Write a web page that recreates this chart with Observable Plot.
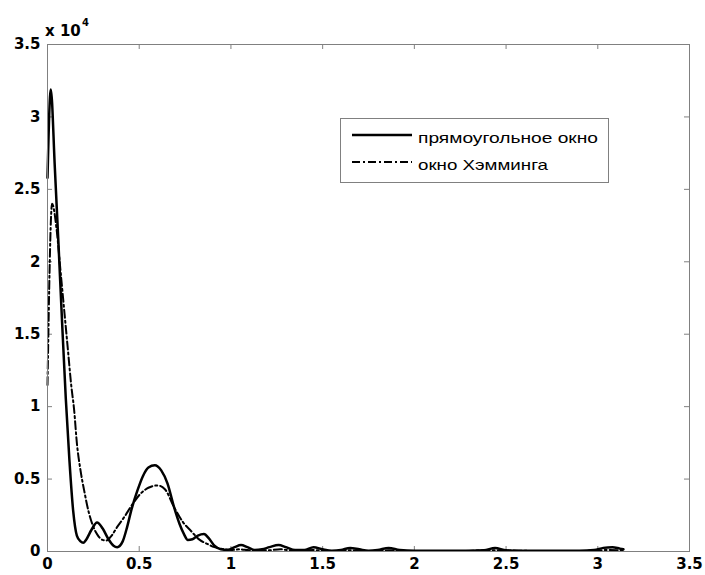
<!DOCTYPE html>
<html>
<head>
<meta charset="utf-8">
<script src="https://cdn.jsdelivr.net/npm/d3@7"></script>
<script src="https://cdn.jsdelivr.net/npm/@observablehq/plot@0.6"></script>
<style>
  html, body { margin: 0; padding: 0; background: #fff; }
  #chart { position: relative; width: 705px; height: 575px; overflow: hidden; }
  #chart svg.overlay { position: absolute; left: 0; top: 0; pointer-events: none; }
</style>
</head>
<body>
<div id="chart"></div>
<script>
// ---- data (values in units of 10^4) ----
const seriesNames = ["прямоугольное окно", "окно Хэмминга"];

const rectX = [0, 0.018, 0.04, 0.06, 0.08, 0.10, 0.12, 0.14, 0.16, 0.18, 0.195, 0.21, 0.24, 0.27, 0.30, 0.33, 0.36, 0.38, 0.41, 0.43, 0.46, 0.49, 0.52, 0.55, 0.585, 0.62, 0.654, 0.69, 0.72, 0.744, 0.765, 0.79, 0.82, 0.853, 0.88, 0.91, 0.945, 0.98, 1.02, 1.055, 1.09, 1.13, 1.17, 1.21, 1.26, 1.30, 1.35, 1.40, 1.45, 1.50, 1.55, 1.60, 1.65, 1.70, 1.75, 1.80, 1.86, 1.92, 2.0, 2.1, 2.2, 2.3, 2.38, 2.44, 2.50, 2.6, 2.7, 2.8, 2.9, 2.98, 3.03, 3.08, 3.12, 3.14];
const rectY = [2.58, 3.19, 2.65, 2.12, 1.57, 1.05, 0.62, 0.28, 0.11, 0.07, 0.06, 0.08, 0.15, 0.20, 0.16, 0.09, 0.04, 0.03, 0.07, 0.15, 0.30, 0.42, 0.52, 0.58, 0.595, 0.56, 0.47, 0.306, 0.19, 0.12, 0.08, 0.085, 0.11, 0.12, 0.09, 0.04, 0.015, 0.01, 0.03, 0.045, 0.03, 0.01, 0.015, 0.03, 0.045, 0.03, 0.01, 0.01, 0.03, 0.015, 0.005, 0.01, 0.025, 0.015, 0.005, 0.01, 0.025, 0.01, 0.005, 0.005, 0.005, 0.005, 0.008, 0.025, 0.008, 0.005, 0.005, 0.005, 0.005, 0.01, 0.025, 0.03, 0.02, 0.015];

const hammX = [0, 0.025, 0.05, 0.07, 0.09, 0.11, 0.13, 0.145, 0.16, 0.18, 0.20, 0.227, 0.25, 0.27, 0.30, 0.32, 0.35, 0.38, 0.418, 0.46, 0.508, 0.55, 0.60, 0.64, 0.69, 0.74, 0.78, 0.83, 0.87, 0.91, 0.945, 1.0, 1.05, 1.1, 1.2, 1.27, 1.35, 1.45, 1.55, 1.65, 1.75, 1.86, 2.0, 2.2, 2.44, 2.7, 2.9, 3.05, 3.14];
const hammY = [1.15, 2.40, 2.22, 1.95, 1.68, 1.41, 1.14, 0.98, 0.75, 0.56, 0.42, 0.26, 0.17, 0.12, 0.08, 0.076, 0.11, 0.17, 0.237, 0.32, 0.40, 0.44, 0.456, 0.43, 0.306, 0.20, 0.145, 0.08, 0.053, 0.03, 0.02, 0.01, 0.015, 0.008, 0.008, 0.015, 0.005, 0.01, 0.003, 0.008, 0.003, 0.008, 0.003, 0.003, 0.008, 0.003, 0.003, 0.01, 0.008];

const xTicks = [0, 0.5, 1, 1.5, 2, 2.5, 3, 3.5];
const yTicks = [0, 0.5, 1, 1.5, 2, 2.5, 3, 3.5];
const xTickLabels = ["0", "0.5", "1", "1.5", "2", "2.5", "3", "3.5"];
const yTickLabels = ["0", "0.5", "1", "1.5", "2", "2.5", "3", "3.5"];
const scaleExponent = "4";

// ---- build tables ----
const rect = rectX.map((x, i) => ({x, y: rectY[i]}));
const hamm = hammX.map((x, i) => ({x, y: hammY[i]}));

const W = 705, H = 575;
const mL = 47, mR = 16, mT = 44, mB = 24;
const innerH = H - mT - mB, innerW = W - mL - mR;
const tick = 5;
const axisColor = "#808080";

const plot = Plot.plot({
  width: W,
  height: H,
  marginLeft: mL, marginRight: mR, marginTop: mT, marginBottom: mB,
  x: {domain: [0, 3.5]},
  y: {domain: [0, 3.5]},
  style: {fontFamily: "'DejaVu Sans', sans-serif", fontSize: "15px", fontWeight: "bold", color: "#000", background: "#fff"},
  marks: [
    // inward ticks on all four sides
    Plot.ruleX(xTicks, {x: d => d, stroke: axisColor, insetTop: innerH - tick}),
    Plot.ruleX(xTicks, {x: d => d, stroke: axisColor, insetBottom: innerH - tick}),
    Plot.ruleY(yTicks, {y: d => d, stroke: axisColor, insetRight: innerW - tick}),
    Plot.ruleY(yTicks, {y: d => d, stroke: axisColor, insetLeft: innerW - tick}),
    Plot.axisX({ticks: xTicks, tickSize: 0, tickPadding: 7, tickFormat: (d) => xTickLabels[xTicks.indexOf(d)], label: null}),
    Plot.axisY({ticks: yTicks, tickSize: 0, tickPadding: 7, tickFormat: (d) => yTickLabels[yTicks.indexOf(d)], label: null}),
    Plot.line(hamm, {x: "x", y: "y", stroke: "#000", strokeWidth: 2, strokeDasharray: "8,3,2,3", curve: "monotone-x"}),
    Plot.line(rect, {x: "x", y: "y", stroke: "#000", strokeWidth: 2.5, curve: "monotone-x"}),
    Plot.frame({stroke: axisColor, strokeWidth: 1})
  ]
});

const chart = document.getElementById("chart");
chart.appendChild(plot);

// ---- overlay: exponent label and legend ----
const NS = "http://www.w3.org/2000/svg";
const ov = document.createElementNS(NS, "svg");
ov.setAttribute("class", "overlay");
ov.setAttribute("width", W);
ov.setAttribute("height", H);
function el(tag, attrs, text) {
  const e = document.createElementNS(NS, tag);
  for (const k in attrs) e.setAttribute(k, attrs[k]);
  if (text != null) e.textContent = text;
  ov.appendChild(e);
  return e;
}
// "x 10^4"
el("text", {x: 45, y: 36, "font-family": "'DejaVu Sans', sans-serif", "font-size": 15, "font-weight": "bold"}, "x 10");
el("text", {x: 82, y: 26, "font-family": "'DejaVu Sans', sans-serif", "font-size": 10, "font-weight": "bold"}, scaleExponent);

// legend
const lx = 340, ly = 118, lw = 268, lh = 64;
el("rect", {x: lx + 0.5, y: ly + 0.5, width: lw, height: lh, fill: "#fff", stroke: axisColor, "stroke-width": 1});
el("line", {x1: lx + 12, x2: lx + 72, y1: ly + 17, y2: ly + 17, stroke: "#000", "stroke-width": 2.5});
el("line", {x1: lx + 12, x2: lx + 72, y1: ly + 44, y2: ly + 44, stroke: "#000", "stroke-width": 2, "stroke-dasharray": "8,3,2,3"});
el("text", {x: lx + 78, y: ly + 25, "font-family": "'Liberation Sans', Arial, sans-serif", "font-size": 15, textLength: 180, lengthAdjust: "spacingAndGlyphs"}, seriesNames[0]);
el("text", {x: lx + 78, y: ly + 52, "font-family": "'Liberation Sans', Arial, sans-serif", "font-size": 15, textLength: 130, lengthAdjust: "spacingAndGlyphs"}, seriesNames[1]);
chart.appendChild(ov);
</script>
</body>
</html>
